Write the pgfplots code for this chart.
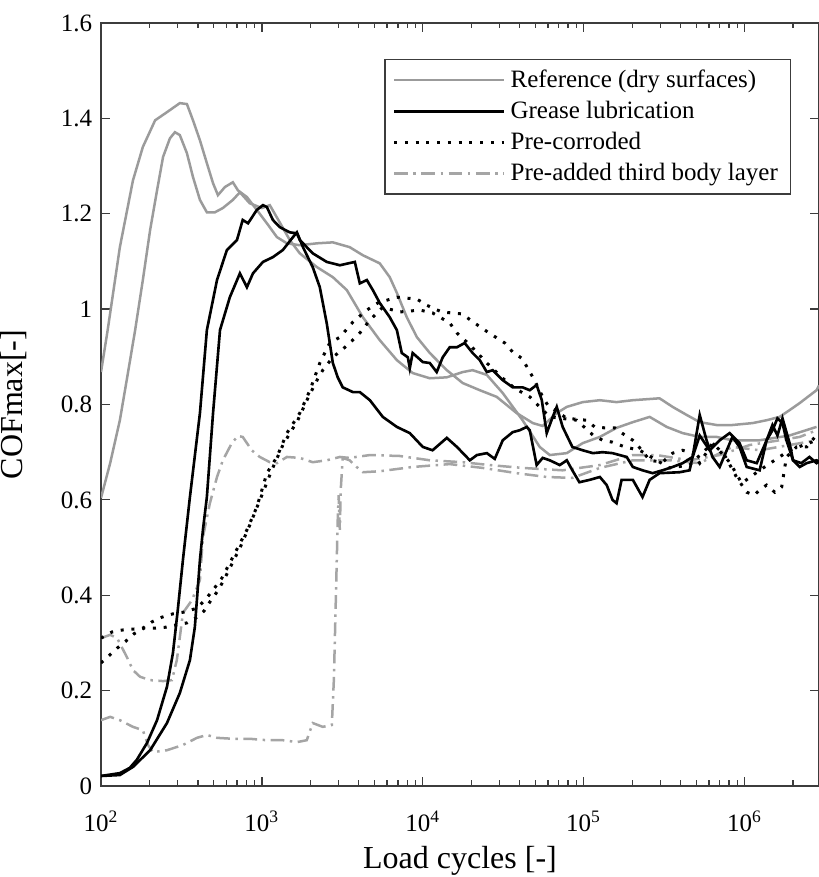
\documentclass[border=0pt]{standalone}
\usepackage{fontspec}
\setmainfont{Liberation Serif}
\usepackage{pgfplots}
\pgfplotsset{compat=1.18}
\definecolor{refgray}{RGB}{155,155,155}
\definecolor{tbgray}{RGB}{165,165,165}
\definecolor{axgray}{RGB}{60,60,60}
\tikzset{
  refline/.style={refgray, line width=1pt},
  grline/.style={black, line width=1.05pt},
  pcline/.style={black, line width=1.2pt, dash pattern=on 1.2pt off 3.1pt},
  tbline/.style={tbgray, line width=1pt, dash pattern=on 5.5pt off 2.2pt on 1pt off 2.2pt},
}
\begin{document}
\begin{tikzpicture}
\begin{axis}[
  at={(0,0)}, anchor=south west, scale only axis,
  width=287.2pt, height=305.2pt,
  xmode=log, xmin=100, xmax=2.9e6, ymin=0, ymax=1.6,
  xtick={1e2,1e3,1e4,1e5,1e6},
  xticklabels={10\textsuperscript{2},10\textsuperscript{3},10\textsuperscript{4},10\textsuperscript{5},10\textsuperscript{6}},
  minor xtick={200,300,400,500,600,700,800,900,2000,3000,4000,5000,6000,7000,8000,9000,20000,30000,40000,50000,60000,70000,80000,90000,2e5,3e5,4e5,5e5,6e5,7e5,8e5,9e5,2e6},
  ytick={0,0.2,0.4,0.6,0.8,1,1.2,1.4,1.6},
  tick align=inside, major tick length=3.6pt, minor tick length=2.2pt,
  axis line style={axgray, line width=0.5pt},
  tick style={axgray, line width=0.5pt},
  tick label style={font=\fontsize{10}{12}\selectfont},
  /pgf/number format/assume math mode=true,
  xticklabel style={yshift=-6.5pt},
  xlabel={Load cycles [-]}, ylabel={COFmax[-]},
  label style={font=\fontsize{12.8}{15}\selectfont},
  x label style={at={(axis description cs:0.5,-0.0985)}, anchor=center},
  y label style={at={(axis description cs:-0.1212,0.5)}, anchor=center},
  legend style={at={(0.961,0.953)}, anchor=north east, draw=axgray, line width=0.5pt,
    font=\fontsize{10}{12}\selectfont, inner xsep=3pt, inner ysep=2pt},
  legend cell align=left,
  legend image code/.code={\draw[#1] (0pt,0pt) -- (44pt,0pt);},
]

% pre-added third body layer
\addplot[tbline, forget plot] coordinates {(100,0.310)(114,0.317)(126,0.310)(145,0.270)(158,0.243)(175,0.229)(202,0.222)(243,0.220)(276,0.222)(296,0.264)(309,0.312)(323,0.363)(368,0.390)(412,0.432)(430,0.522)(475,0.593)(526,0.648)(572,0.683)(650,0.719)(710,0.734)(760,0.732)(865,0.704)(970,0.690)(1120,0.679)(1240,0.677)(1430,0.690)(1720,0.688)(2070,0.679)(2530,0.683)(3050,0.690)(3510,0.688)(4690,0.694)(7200,0.692)(11050,0.683)(17700,0.679)(26000,0.673)(41700,0.667)(74000,0.662)(126000,0.673)(202000,0.694)(284000,0.694)(455000,0.683)(700000,0.694)(1074000,0.715)(1650000,0.725)(2200000,0.732)(2800000,0.746)};
\addplot[tbline, forget plot] coordinates {(100,0.138)(114,0.145)(131,0.138)(158,0.124)(182,0.117)(196,0.086)(210,0.071)(257,0.075)(323,0.086)(395,0.101)(455,0.107)(526,0.101)(660,0.099)(840,0.099)(1074,0.096)(1350,0.096)(1650,0.092)(1900,0.096)(2070,0.132)(2390,0.124)(2720,0.128)(2800,0.222)(2880,0.390)(2960,0.558)(3000,0.610)(3050,0.537)(3090,0.621)(3180,0.688)(3510,0.683)(3880,0.669)(4240,0.658)(5400,0.660)(8650,0.669)(14700,0.675)(23600,0.667)(38300,0.656)(58900,0.648)(85000,0.646)(126000,0.667)(202000,0.683)(342000,0.683)(526000,0.677)(840000,0.711)(1240000,0.704)(1900000,0.715)(2800000,0.725)};

% reference (dry surfaces)
\addplot[refline, forget plot] coordinates {(100,0.868)(110,0.956)(131,1.130)(158,1.270)(182,1.340)(217,1.396)(257,1.413)(309,1.432)(342,1.430)(373,1.396)(412,1.354)(455,1.306)(497,1.264)(533,1.239)(589,1.256)(660,1.266)(710,1.249)(807,1.235)(930,1.208)(1074,1.180)(1240,1.151)(1430,1.138)(1720,1.134)(2200,1.138)(2760,1.140)(3510,1.130)(4240,1.113)(5400,1.096)(6230,1.067)(6900,1.034)(7950,0.983)(9200,0.941)(11050,0.908)(14100,0.872)(17700,0.845)(22600,0.830)(28800,0.816)(38300,0.782)(48300,0.761)(55600,0.755)(68000,0.782)(78500,0.795)(98600,0.805)(126000,0.809)(160000,0.805)(202000,0.809)(296000,0.813)(357000,0.795)(437000,0.778)(526000,0.763)(670000,0.757)(840000,0.757)(1120000,0.761)(1370000,0.767)(1650000,0.774)(1900000,0.788)(2200000,0.803)(2800000,0.830)(2900000,0.840)};
\addplot[refline, forget plot] coordinates {(100,0.604)(114,0.677)(131,0.767)(147,0.866)(163,0.956)(182,1.061)(202,1.166)(223,1.249)(243,1.319)(268,1.358)(288,1.371)(309,1.365)(342,1.327)(373,1.277)(412,1.229)(455,1.203)(510,1.203)(572,1.212)(660,1.229)(730,1.245)(840,1.222)(1000,1.212)(1120,1.218)(1290,1.182)(1490,1.145)(1720,1.117)(2200,1.088)(2760,1.067)(3370,1.040)(4240,0.983)(5400,0.935)(6900,0.893)(8650,0.866)(11050,0.855)(14100,0.857)(17700,0.868)(20400,0.872)(25000,0.862)(31400,0.824)(41700,0.767)(53300,0.711)(61500,0.694)(78500,0.698)(98600,0.719)(126000,0.732)(160000,0.751)(202000,0.763)(257000,0.774)(328000,0.753)(412000,0.740)(526000,0.732)(670000,0.732)(840000,0.725)(1240000,0.725)(1900000,0.735)(2800000,0.753)};

% pre-corroded
\addplot[pcline, forget plot] coordinates {(100,0.310)(117,0.323)(135,0.327)(158,0.329)(182,0.331)(207,0.344)(239,0.354)(280,0.361)(333,0.365)(395,0.373)(443,0.390)(497,0.411)(564,0.436)(660,0.480)(807,0.537)(930,0.585)(1074,0.656)(1240,0.690)(1430,0.740)(1720,0.782)(1990,0.830)(2290,0.887)(2640,0.929)(3050,0.941)(3680,0.973)(4490,0.998)(5260,1.013)(6900,1.025)(9200,1.021)(10600,1.008)(13100,0.994)(17500,0.990)(22000,0.966)(25300,0.952)(32300,0.929)(36200,0.910)(41200,0.897)(44900,0.876)(48300,0.857)(55600,0.816)(59700,0.799)(78500,0.771)(104000,0.767)(117000,0.753)(135000,0.751)(156000,0.751)(180000,0.736)(202000,0.725)(223000,0.709)(257000,0.683)(309000,0.679)(357000,0.698)(412000,0.704)(475000,0.698)(526000,0.677)(632000,0.719)(750000,0.694)(890000,0.648)(1030000,0.616)(1150000,0.610)(1240000,0.621)(1370000,0.631)(1540000,0.616)(1700000,0.627)(1820000,0.690)(2100000,0.711)(2430000,0.711)(2800000,0.736)};
\addplot[pcline, forget plot] coordinates {(100,0.258)(112,0.273)(126,0.289)(143,0.304)(160,0.319)(185,0.331)(217,0.331)(253,0.333)(296,0.338)(342,0.342)(395,0.354)(437,0.367)(475,0.386)(526,0.407)(572,0.428)(632,0.457)(730,0.499)(840,0.547)(1000,0.610)(1150,0.662)(1350,0.715)(1670,0.767)(1930,0.813)(2200,0.851)(2390,0.872)(2760,0.899)(3420,0.925)(4060,0.950)(4690,0.977)(5640,1.004)(7200,0.994)(9600,0.998)(11500,0.992)(14700,0.971)(16300,0.950)(19600,0.925)(25000,0.887)(31400,0.855)(37300,0.834)(46200,0.816)(61500,0.774)(90600,0.767)(114000,0.736)(131000,0.725)(151000,0.721)(180000,0.711)(223000,0.704)(284000,0.683)(342000,0.667)(455000,0.673)(632000,0.719)(807000,0.679)(960000,0.635)(1240000,0.662)(1900000,0.704)(2800000,0.725)};

% grease lubrication
\addplot[grline, forget plot] coordinates {(100,0.021)(131,0.027)(151,0.038)(167,0.055)(193,0.090)(223,0.138)(257,0.208)(280,0.279)(300,0.369)(323,0.474)(357,0.606)(412,0.782)(455,0.956)(526,1.061)(606,1.124)(700,1.145)(760,1.187)(820,1.180)(930,1.208)(1015,1.218)(1074,1.214)(1170,1.187)(1290,1.172)(1490,1.161)(1650,1.159)(1720,1.145)(2070,1.117)(2530,1.099)(3050,1.092)(3780,1.099)(4060,1.054)(4490,1.061)(4890,1.040)(5400,1.013)(6230,0.983)(6900,0.956)(7400,0.908)(8070,0.899)(8300,0.876)(8650,0.908)(10000,0.889)(11050,0.887)(12200,0.868)(13300,0.899)(14700,0.920)(16300,0.920)(18200,0.929)(20400,0.908)(22600,0.893)(25000,0.868)(27200,0.872)(31400,0.851)(36200,0.836)(41700,0.836)(46200,0.830)(51000,0.841)(54900,0.809)(58900,0.740)(64200,0.774)(68000,0.795)(74000,0.753)(85000,0.711)(98600,0.704)(114000,0.698)(131000,0.700)(151000,0.698)(185000,0.690)(202000,0.669)(232000,0.662)(268000,0.656)(309000,0.662)(357000,0.669)(412000,0.677)(475000,0.690)(526000,0.735)(606000,0.704)(700000,0.725)(807000,0.740)(930000,0.719)(1030000,0.683)(1190000,0.677)(1370000,0.725)(1490000,0.746)(1600000,0.771)(1720000,0.761)(1820000,0.725)(2000000,0.683)(2250000,0.677)(2530000,0.690)(2800000,0.677)(2900000,0.680)};
\addplot[grline, forget plot] coordinates {(100,0.021)(131,0.023)(158,0.040)(202,0.075)(257,0.132)(309,0.195)(357,0.264)(383,0.333)(400,0.417)(412,0.474)(430,0.537)(455,0.606)(497,0.782)(549,0.956)(632,1.025)(730,1.075)(807,1.046)(880,1.075)(1015,1.099)(1170,1.109)(1350,1.124)(1560,1.151)(1650,1.161)(1800,1.130)(2070,1.088)(2290,1.046)(2530,0.970)(2760,0.887)(2960,0.857)(3180,0.836)(3680,0.826)(4060,0.826)(4690,0.809)(5640,0.774)(6900,0.753)(8300,0.740)(10000,0.711)(11500,0.704)(14100,0.730)(16300,0.711)(19600,0.683)(21700,0.694)(25000,0.698)(28000,0.686)(31400,0.725)(36200,0.742)(40000,0.746)(44300,0.753)(46200,0.746)(51000,0.673)(55600,0.688)(61500,0.683)(71000,0.673)(78500,0.683)(85000,0.662)(94000,0.637)(109000,0.642)(126000,0.648)(139000,0.631)(151000,0.600)(160000,0.593)(172000,0.642)(202000,0.642)(232000,0.606)(257000,0.642)(296000,0.656)(395000,0.658)(455000,0.662)(475000,0.690)(526000,0.778)(580000,0.725)(632000,0.690)(700000,0.669)(840000,0.732)(930000,0.711)(1030000,0.669)(1240000,0.662)(1370000,0.725)(1490000,0.757)(1600000,0.735)(1720000,0.771)(1900000,0.720)(2000000,0.683)(2200000,0.669)(2430000,0.677)(2800000,0.683)(2900000,0.680)};

\addlegendimage{refline}
\addlegendentry{Reference (dry surfaces)}
\addlegendimage{grline}
\addlegendentry{Grease lubrication}
\addlegendimage{pcline}
\addlegendentry{Pre-corroded}
\addlegendimage{tbline}
\addlegendentry{Pre-added third body layer}
\end{axis}
\pgfresetboundingbox
\path (-40.4pt,-36.4pt) rectangle (286.8pt,314.4pt);
\end{tikzpicture}
\end{document}
